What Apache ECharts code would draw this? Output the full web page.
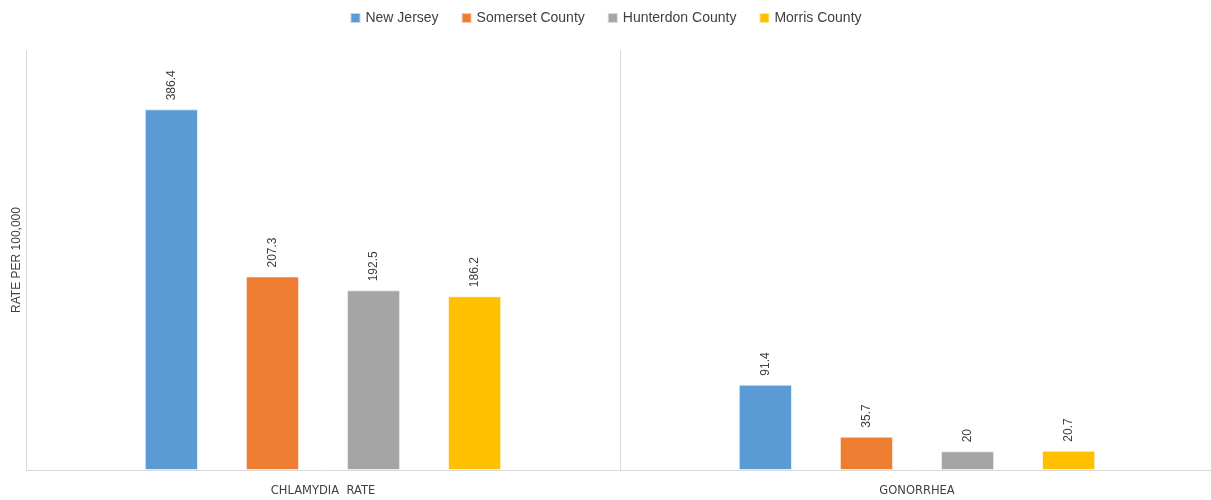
<!DOCTYPE html>
<html>
<head>
<meta charset="utf-8">
<script src="https://cdn.jsdelivr.net/npm/echarts@6/dist/echarts.min.js"></script>
<style>
html,body{margin:0;padding:0;background:#fff;}
#chart{width:1211px;height:500px;}
</style>
</head>
<body>
<div id="chart"></div>
<script>
const categories = ['CHLAMYDIA  RATE', 'GONORRHEA'];
const seriesNames = ['New Jersey', 'Somerset County', 'Hunterdon County', 'Morris County'];
const newJersey = [386.4, 91.4];
const somerset = [207.3, 35.7];
const hunterdon = [192.5, 20];
const morris = [186.2, 20.7];
const yAxisName = 'RATE PER 100,000';

const colors = ['#5B9BD5', '#ED7D31', '#A5A5A5', '#FFC000'];
const values = [newJersey, somerset, hunterdon, morris];
const FONT = "'Liberation Sans Narrow', 'Liberation Sans', sans-serif";

const chart = echarts.init(document.getElementById('chart'));
chart.setOption({
  animation: false,
  color: colors,
  legend: {
    top: 6,
    left: 'center',
    itemWidth: 10,
    itemHeight: 10,
    itemGap: 22,
    icon: 'rect',
    textStyle: { fontFamily: FONT, fontSize: 14, color: '#404040' },
    data: seriesNames
  },
  grid: { left: 26, right: -3, top: 50, bottom: 30, containLabel: false, outerBoundsMode: 'none' },
  xAxis: {
    type: 'category',
    data: categories,
    boundaryGap: true,
    axisLine: { show: true, lineStyle: { color: '#d9d9d9', width: 1 } },
    axisTick: { show: false },
    splitLine: { show: true, interval: 0, lineStyle: { color: '#d9d9d9', width: 1 } },
    axisLabel: { fontFamily: "'DejaVu Sans', sans-serif", fontSize: 11.5, color: '#404040', margin: 15 }
  },
  yAxis: {
    type: 'value',
    min: 0,
    max: 450,
    interval: 50,
    name: yAxisName,
    nameLocation: 'middle',
    nameGap: 3,
    nameRotate: 90,
    nameTextStyle: { fontFamily: "'Liberation Sans', sans-serif", fontSize: 12, color: '#404040' },
    axisLine: { show: false },
    axisTick: { show: false },
    axisLabel: { show: false },
    splitLine: { show: false }
  },
  series: seriesNames.map((n, i) => ({
    name: n,
    type: 'bar',
    data: values[i],
    barGap: '90%',
    barCategoryGap: '40%',
    itemStyle: { borderColor: 'rgba(255,255,255,0.6)', borderWidth: 1 },
    label: {
      show: true,
      position: 'top',
      rotate: 90,
      align: 'left',
      verticalAlign: 'middle',
      distance: 9,
      fontFamily: "'Liberation Sans', sans-serif",
      fontSize: 12,
      color: '#404040'
    }
  }))
});
</script>
</body>
</html>
